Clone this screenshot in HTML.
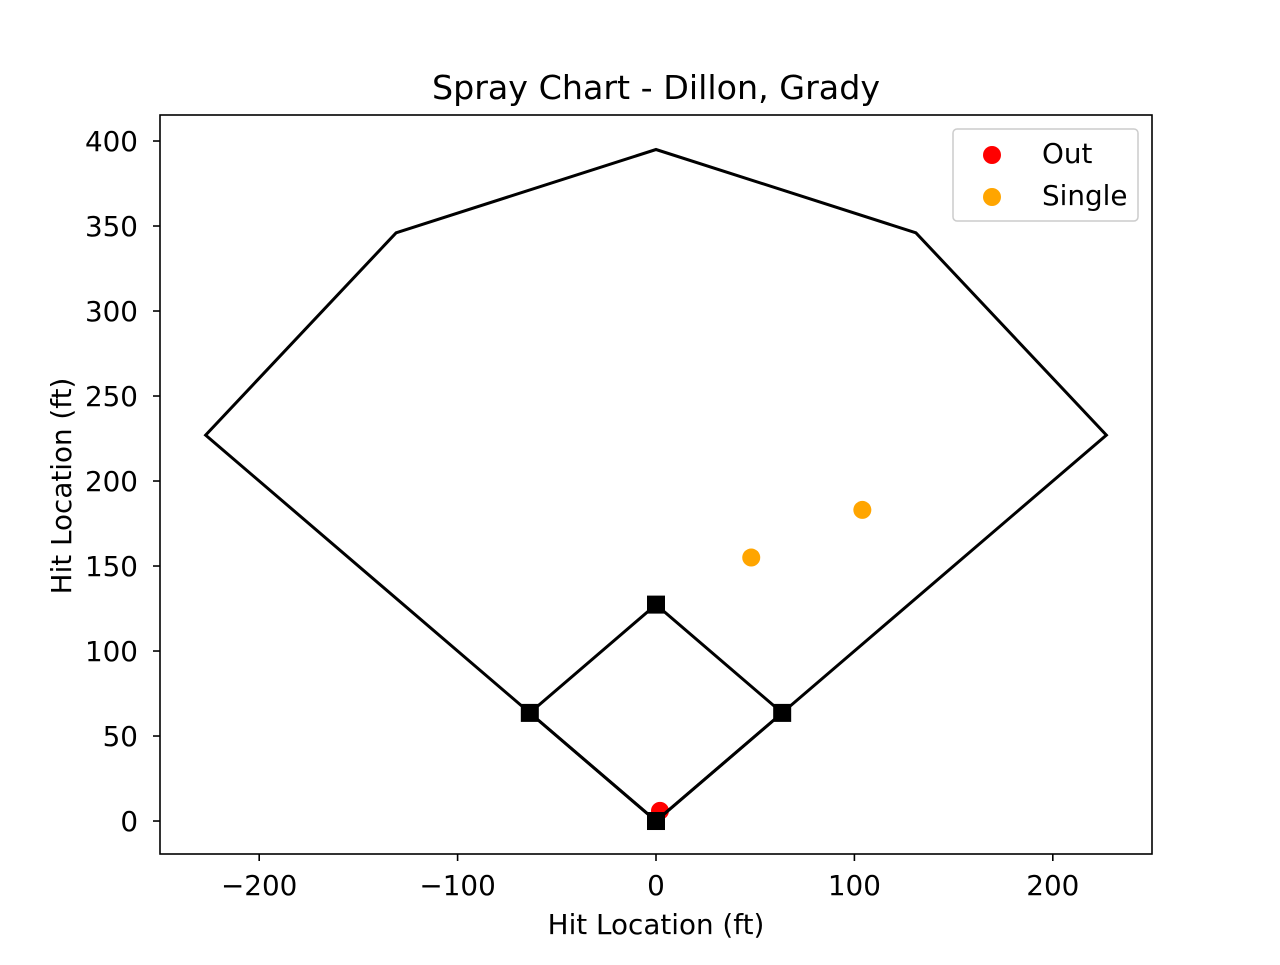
<!DOCTYPE html>
<html><head><meta charset="utf-8"><style>
body{margin:0;background:#fff}
svg text{font-family:"DejaVu Sans","Liberation Sans",sans-serif;fill:#000}
</style></head><body>
<svg id="chart" width="1280" height="960" viewBox="0 0 1280 960" xmlns="http://www.w3.org/2000/svg">
<rect width="1280" height="960" fill="#fff"/>
<text x="656" y="99" font-size="33.3" text-anchor="middle">Spray Chart - Dillon, Grady</text>
<g id="points"></g>
<g id="field"></g>
<g id="bases"></g>
<g id="axes"></g>
<text x="656" y="934" font-size="27.8" text-anchor="middle">Hit Location (ft)</text>
<text transform="translate(71,486) rotate(-90)" font-size="27.8" text-anchor="middle">Hit Location (ft)</text>
<g>
<rect x="953" y="129" width="185" height="92" rx="4" fill="#fff" stroke="#ccc" stroke-width="1.5"/>
<circle cx="992" cy="155" r="9" fill="#ff0000"/>
<text x="1042" y="163" font-size="27.8">Out</text>
<circle cx="992" cy="197" r="9" fill="#ffa500"/>
<text x="1042" y="205" font-size="27.8">Single</text>
</g>
</svg>
<script>
const fieldX=[0,-227,-131,0,131,227,0];
const fieldY=[0,227,346,395,346,227,0];
const baseX=[0,63.6,0,-63.6,0];
const baseY=[0,63.6,127.3,63.6,0];
const outX=[2];const outY=[6];
const singleX=[48,104];const singleY=[155,183];
const xTicks=[-200,-100,0,100,200];
const yTicks=[0,50,100,150,200,250,300,350,400];
const L=160,R=1152,T=115,B=854,xmin=-250,xmax=250,ymin=-19.4,ymax=415.3;
const sx=v=>L+(v-xmin)/(xmax-xmin)*(R-L);
const sy=v=>B-(v-ymin)/(ymax-ymin)*(B-T);
const NS='http://www.w3.org/2000/svg';
function mk(t,a,p){const e=document.createElementNS(NS,t);for(const k in a)e.setAttribute(k,a[k]);p.appendChild(e);return e;}
const f=document.getElementById('field');
let pl=mk('polyline',{points:fieldX.map((x,i)=>sx(x)+','+sy(fieldY[i])).join(' '),fill:'none',stroke:'#000','stroke-width':3},f);


const b=document.getElementById('bases');
let bl=mk('polyline',{points:baseX.map((x,i)=>sx(x)+','+sy(baseY[i])).join(' '),fill:'none',stroke:'#000','stroke-width':3},b);


baseX.slice(0,4).forEach((x,i)=>{const r=mk('rect',{x:sx(x)-9,y:sy(baseY[i])-9,width:18,height:18,fill:'#000'},b);

});
const p=document.getElementById('points');
outX.forEach((x,i)=>{const c=mk('circle',{cx:sx(x),cy:sy(outY[i]),r:9,fill:'#ff0000'},p);

});
singleX.forEach((x,i)=>{const c=mk('circle',{cx:sx(x),cy:sy(singleY[i]),r:9,fill:'#ffa500'},p);

});
const a=document.getElementById('axes');
let fr=mk('rect',{x:L,y:T,width:R-L,height:B-T,fill:'none',stroke:'#000','stroke-width':1.6},a);


xTicks.forEach(v=>{mk('line',{x1:sx(v),x2:sx(v),y1:B,y2:B+7,stroke:'#000','stroke-width':1.6},a);
const t=mk('text',{x:sx(v),y:B+41,'font-size':27.8,'text-anchor':'middle'},a);t.textContent=(v<0?'\u2212'+(-v):v);

});
yTicks.forEach(v=>{mk('line',{x1:L-7,x2:L,y1:sy(v),y2:sy(v),stroke:'#000','stroke-width':1.6},a);
const t=mk('text',{x:L-22,y:sy(v)+10,'font-size':27.8,'text-anchor':'end'},a);t.textContent=v;

});
</script>
</body></html>
